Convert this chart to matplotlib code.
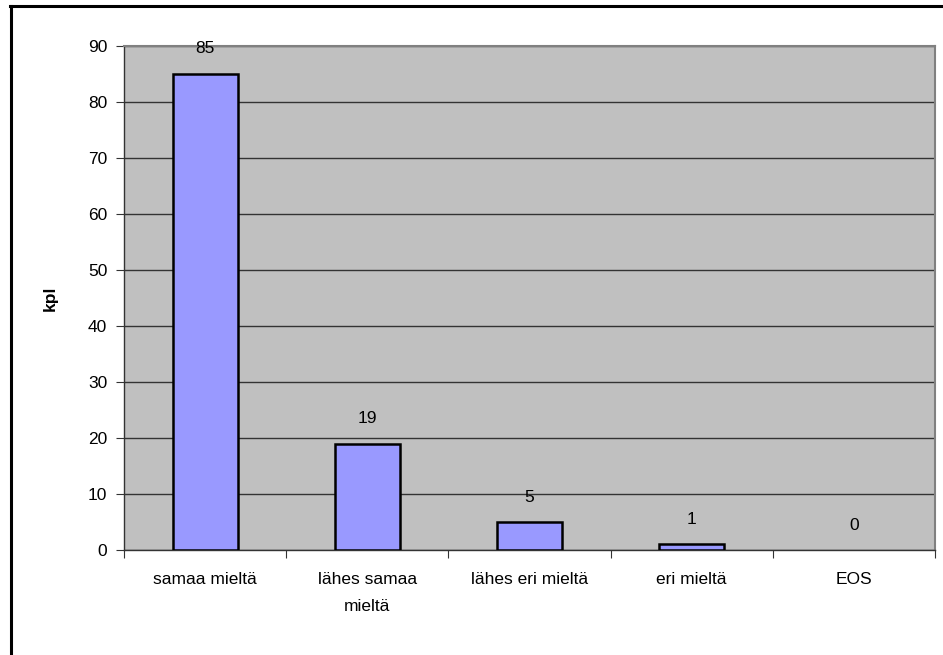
import matplotlib.pyplot as plt
from matplotlib.lines import Line2D
import numpy as np

categories = ['samaa mieltä', 'lähes samaa\nmieltä', 'lähes eri mieltä', 'eri mieltä', 'EOS']
counts = [85, 19, 5, 1, 0]

plt.rcParams['font.family'] = ['Liberation Sans', 'DejaVu Sans']

fig = plt.figure(figsize=(9.43, 6.55), dpi=100)
ax = fig.add_axes([0.1315, 0.1603, 0.86, 0.7695])
ax.set_facecolor('#C0C0C0')

x = np.arange(len(categories))
bars = ax.bar(x, counts, width=0.4, color='#9999FF', edgecolor='black', linewidth=1.8, zorder=3)
for b, v in zip(bars, counts):
    if v == 0:
        b.set_linewidth(0)

for xi, v in zip(x, counts):
    ax.annotate(str(v), (xi, v), xytext=(0, 18), textcoords='offset points',
                ha='center', va='center', fontsize=12.5)

ax.set_xlim(-0.5, len(categories) - 0.5)
ax.set_ylim(0, 90)
ax.set_yticks(range(0, 91, 10))
ax.yaxis.grid(True, color='#333333', linewidth=1, zorder=0)
ax.set_axisbelow(True)

# ticks sit between the categories, labels under each bar
ax.set_xticks(np.arange(-0.5, len(categories), 1.0))
ax.set_xticklabels([])
ax.set_xticks(x, minor=True)
ax.set_xticklabels(categories, minor=True, fontsize=12.5, linespacing=2.0)
ax.tick_params(axis='x', which='minor', length=0, pad=16)
ax.tick_params(axis='x', which='major', length=6, direction='out', color='#333333')
ax.tick_params(axis='y', length=6, direction='out', labelsize=12.5, color='#333333', pad=6)

for side in ['left', 'bottom']:
    ax.spines[side].set_color('#333333')
    ax.spines[side].set_linewidth(1)
for side in ['top', 'right']:
    ax.spines[side].set_color('#808080')
    ax.spines[side].set_linewidth(1.5)

ax.set_ylabel('kpl', fontsize=12.5, fontweight='bold', labelpad=22)

# frame around the chart, only its left and top edges are in view
fig.add_artist(Line2D([0.0115, 0.0115], [0.0, 0.991], transform=fig.transFigure,
                      color='black', linewidth=2.2))
fig.add_artist(Line2D([0.0105, 1.0], [0.991, 0.991], transform=fig.transFigure,
                      color='black', linewidth=2.2))

fig.savefig('out.png', dpi=100)
